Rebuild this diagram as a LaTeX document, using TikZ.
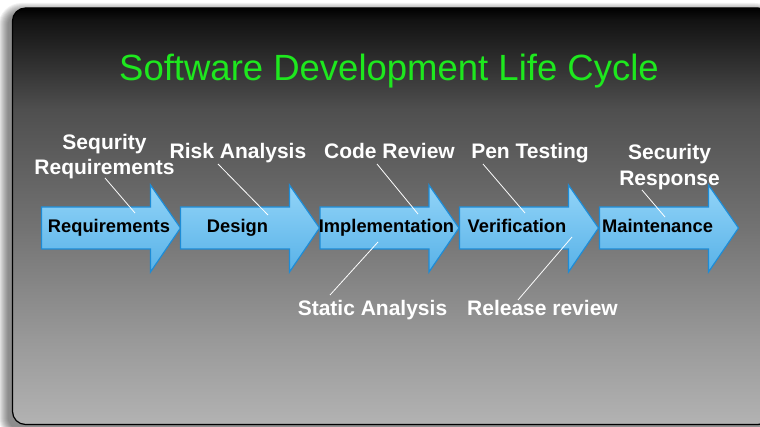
\documentclass[tikz,border=0pt]{standalone}
\usepackage{fontspec}
\setmainfont{Liberation Sans}
\usetikzlibrary{calc}

\definecolor{titlegreen}{RGB}{30,232,30}
\definecolor{arrowtop}{RGB}{146,212,248}
\definecolor{arrowbot}{RGB}{88,178,232}
\definecolor{arrowedge}{RGB}{30,140,214}

% slide background: black at the top, light grey at the bottom
\pgfdeclareverticalshading{slidebg}{100bp}{%
  color(0bp)=(black!30); color(25bp)=(black!30);
  color(35.1bp)=(black!40); color(48.6bp)=(black!55);
  color(62.8bp)=(black!69); color(73.6bp)=(black!93);
  color(75bp)=(black); color(100bp)=(black)}

\begin{document}
\begin{tikzpicture}[x=1pt,y=1pt,
  leader/.style={draw=white, line width=0.8pt},
  stagebox/.style={top color=arrowtop, bottom color=arrowbot,
    draw=arrowedge, line width=1.2pt, line join=miter},
  stagetext/.style={font=\fontsize{18.3}{22}\selectfont\bfseries,
    text=black, inner sep=0pt, anchor=base},
  notetext/.style={font=\fontsize{21}{25}\selectfont\bfseries,
    text=white, inner sep=0pt, align=center},
]
\useasboundingbox (0,0) rectangle (760,426);
\clip (0,0) rectangle (760,426);
\fill[white] (0,0) rectangle (760,426);

% soft drop shadow of the slide
\foreach \i in {1,...,10}{
  \pgfmathsetmacro\rc{13+\i}
  \fill[black, opacity=0.055, rounded corners=\rc pt]
    (8.5-\i, -3.5-\i) rectangle (768+\i, 413+\i);
}

% slide
\shade[shading=slidebg, rounded corners=13pt] (12.5,1.5) rectangle (771,418);
\draw[black, line width=1.2pt, rounded corners=13pt] (12.5,1.5) rectangle (771,418);

% title
\node[font=\fontsize{36.5}{40}\selectfont, text=titlegreen, anchor=base,
  inner sep=0pt] (title) at (389,345) {Software Development Life Cycle};

% phase arrows
\foreach \x/\nm/\lbl/\cx in {41.5/req/Requirements/109,
    180.5/des/Design/237.5,
    320/impl/Implementation/386.5,
    459.5/ver/Verification/517,
    599.5/mnt/Maintenance/657.5}{
  \path[stagebox] (\x,219) -- (\x+109,219) -- (\x+109,241) -- (\x+139,198)
    -- (\x+109,154) -- (\x+109,177) -- (\x,177) -- cycle;
  \node[stagetext] (\nm) at (\cx,193) {\lbl};
}

% security activities
\node[notetext, anchor=north] (secreq) at (104.5,291.8) {Sequrity\\Requirements};
\node[notetext, anchor=base] (risk) at (238,267) {Risk Analysis};
\node[notetext, anchor=base] (codrev) at (389.5,267) {Code Review};
\node[notetext, anchor=base] (pentest) at (530,267) {Pen Testing};
\node[notetext, anchor=north] (secresp) at (669.5,282) {Security\\[1pt]Response};
\node[notetext, anchor=base] (static) at (372.5,111) {Static Analysis};
\node[notetext, anchor=base] (release) at (542.5,111) {Release review};

% leader lines from activities to phases
\coordinate (secreq-a) at (105,248);  \coordinate (secreq-b) at (135,213);
\coordinate (risk-a) at (218,262);    \coordinate (risk-b) at (268,211);
\coordinate (codrev-a) at (377,262);  \coordinate (codrev-b) at (418,212);
\coordinate (pentest-a) at (483,262); \coordinate (pentest-b) at (525,213);
\coordinate (secresp-a) at (642,236); \coordinate (secresp-b) at (665,209);
\coordinate (static-a) at (378,184);  \coordinate (static-b) at (330,131);
\coordinate (release-a) at (572,189); \coordinate (release-b) at (518,126);

\draw[leader] (secreq-a) -- (secreq-b);
\draw[leader] (risk-a) -- (risk-b);
\draw[leader] (codrev-a) -- (codrev-b);
\draw[leader] (pentest-a) -- (pentest-b);
\draw[leader] (secresp-a) -- (secresp-b);
\draw[leader] (static-a) -- (static-b);
\draw[leader] (release-a) -- (release-b);
\end{tikzpicture}
\end{document}
